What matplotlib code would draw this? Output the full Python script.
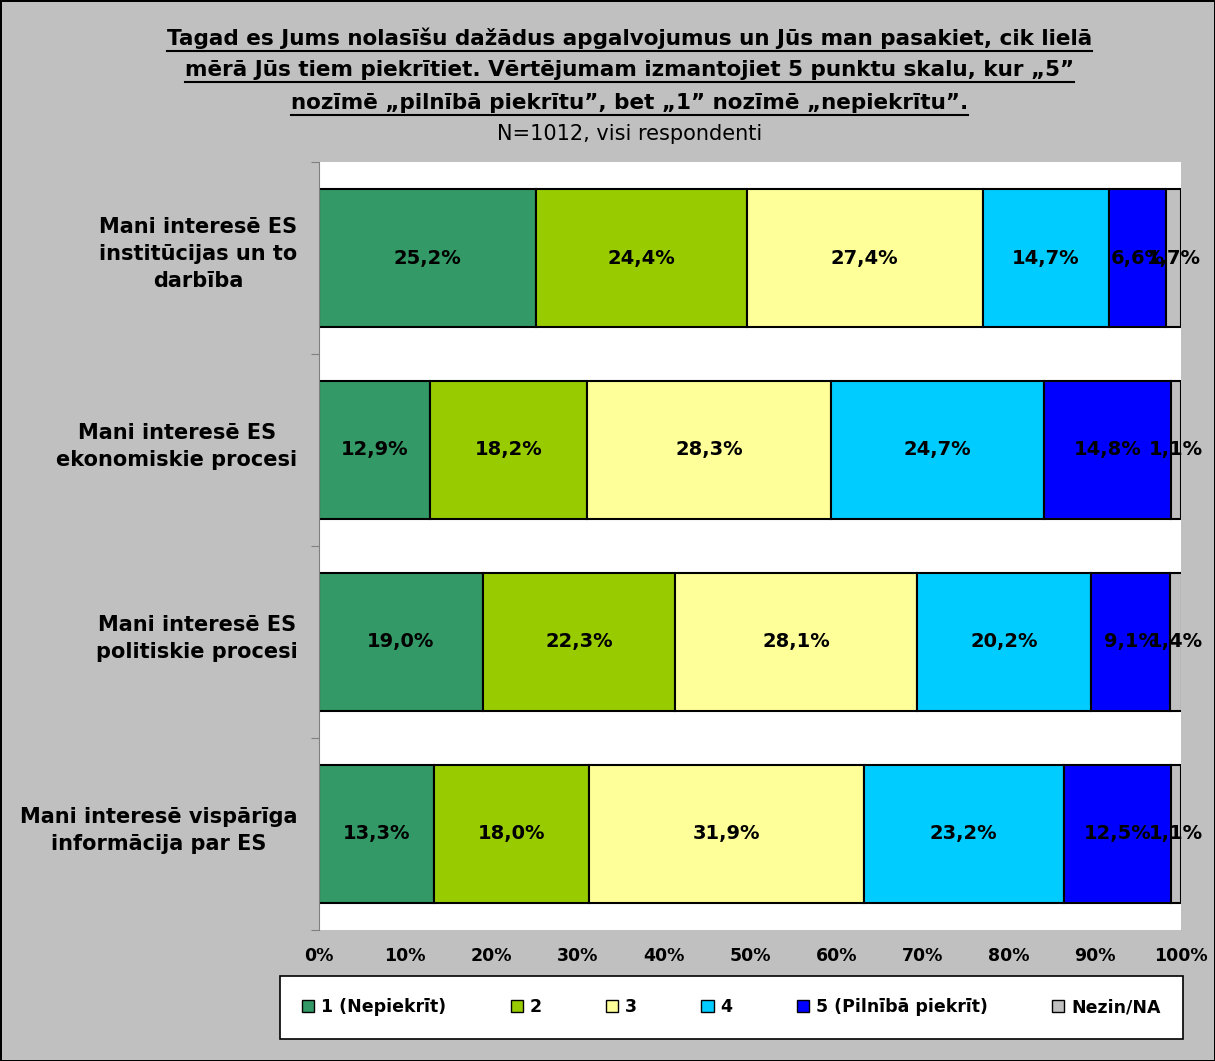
import matplotlib.pyplot as plt
from matplotlib.patches import Patch

categories = ["Mani interesē ES\ninstitūcijas un to\ndarbība",
              "Mani interesē ES\nekonomiskie procesi",
              "Mani interesē ES\npolitiskie procesi",
              "Mani interesē vispārīga\ninformācija par ES"]
series_names = ["1 (Nepiekrīt)", "2", "3", "4", "5 (Pilnībā piekrīt)", "Nezin/NA"]
values = [
    [25.2, 12.9, 19.0, 13.3],
    [24.4, 18.2, 22.3, 18.0],
    [27.4, 28.3, 28.1, 31.9],
    [14.7, 24.7, 20.2, 23.2],
    [6.6, 14.8, 9.1, 12.5],
    [1.7, 1.1, 1.4, 1.1],
]
colors = ["#339966", "#99CC00", "#FFFF99", "#00CCFF", "#0000FF", "#C0C0C0"]
title_lines = ["Tagad es Jums nolasīšu dažādus apgalvojumus un Jūs man pasakiet, cik lielā",
               "mērā Jūs tiem piekrītiet. Vērtējumam izmantojiet 5 punktu skalu, kur „5”",
               "nozīmē „pilnībā piekrītu”, bet „1” nozīmē „nepiekrītu”."]
subtitle = "N=1012, visi respondenti"

plt.rcParams['font.family'] = ['DejaVu Sans']

fig = plt.figure(figsize=(12.15, 10.61), dpi=100, facecolor="#C0C0C0",
                 edgecolor="black", linewidth=2)
ax = fig.add_axes([0.2626, 0.1235, 0.7094, 0.7238])
ax.set_facecolor("white")

ypos = list(range(len(categories)))
left = [0.0] * len(categories)
for i, name in enumerate(series_names):
    ax.barh(ypos, values[i], left=left, height=0.72, color=colors[i],
            edgecolor="black", linewidth=1.5, label=name)
    for j, v in enumerate(values[i]):
        ax.text(left[j] + v / 2, ypos[j], (f"{v:.1f}%").replace(".", ","),
                ha="center", va="center", fontsize=14, fontweight="bold")
        left[j] += v

ax.set_xlim(0, 100)
ax.set_ylim(len(categories) - 0.5, -0.5)
ax.set_xticks(range(0, 101, 10))
ax.set_xticklabels([f"{t}%" for t in range(0, 101, 10)], fontsize=12.5, fontweight="bold")
ax.set_yticks([y + 0.5 for y in range(-1, len(categories))])
ax.set_yticklabels([])
ax.tick_params(axis="y", length=6, direction="out", color="#808080")
ax.tick_params(axis="x", length=0, pad=12)
for y, c in zip(ypos, categories):
    ax.text(-2.5, y - 0.02, c, ha="right", va="center", multialignment="center",
            fontsize=15, fontweight="bold", linespacing=1.45)
for s in ["top", "right", "bottom"]:
    ax.spines[s].set_visible(False)
ax.spines["left"].set_color("#808080")

# title with underline
title_y = [0.964, 0.934, 0.903]
fig.canvas.draw()
r = fig.canvas.get_renderer()
for ln, ty in zip(title_lines, title_y):
    t = fig.text(0.518, ty, ln, ha="center", va="center", fontsize=15.5, fontweight="bold")
    bb = t.get_window_extent(renderer=r)
    x0, x1 = bb.x0 / fig.bbox.width, bb.x1 / fig.bbox.width
    yb = bb.y0 / fig.bbox.height - 0.002
    fig.add_artist(plt.Line2D([x0, x1], [yb, yb], color="black", linewidth=1.5,
                              transform=fig.transFigure))
fig.text(0.518, 0.874, subtitle, ha="center", va="center", fontsize=15)

handles = [Patch(facecolor=c, edgecolor="black", label=n) for c, n in zip(colors, series_names)]
leg = fig.legend(handles=handles, loc="center", bbox_to_anchor=(0.602, 0.0505), ncol=6,
                 frameon=True, fancybox=False, edgecolor="black", facecolor="white",
                 framealpha=1, handlelength=0.7, handleheight=0.7, handletextpad=0.4,
                 columnspacing=3.7, borderpad=1.3, prop={"weight": "bold", "size": 12.5})
leg.get_frame().set_linewidth(1.2)

fig.savefig("out.png", dpi=100, facecolor=fig.get_facecolor(), edgecolor=fig.get_edgecolor())
